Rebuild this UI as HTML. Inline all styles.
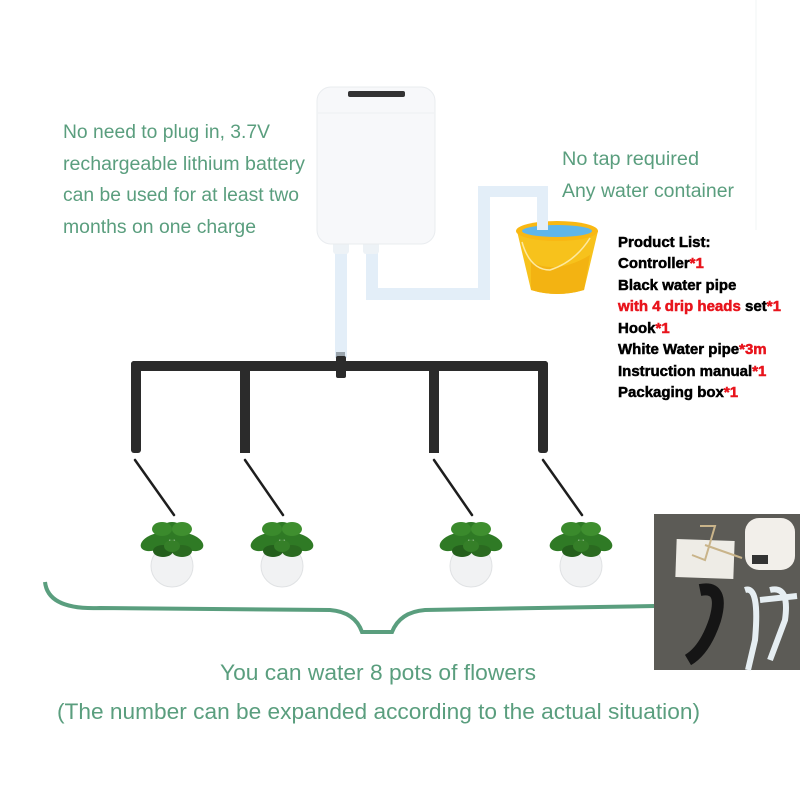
<!DOCTYPE html>
<html><head><meta charset="utf-8"><style>
body{margin:0;background:#fff}
svg{display:block}
.g{font-family:"Liberation Sans",sans-serif;fill:#5a9e7e}
.p{font-family:"Liberation Sans",sans-serif;font-weight:bold;font-size:15px;fill:#000;stroke:#000;stroke-width:0.5}
.r{fill:#e8141c;stroke:#e8141c}
</style></head><body>
<svg width="800" height="800" viewBox="0 0 800 800" xmlns="http://www.w3.org/2000/svg">
<rect width="800" height="800" fill="#fff"/>
<line x1="756" y1="0" x2="756" y2="230" stroke="#f2f4f6" stroke-width="1"/>
<g class="g" font-size="19">
<text x="63" y="138" textLength="207" lengthAdjust="spacingAndGlyphs">No need to plug in, 3.7V</text>
<text x="63" y="170" textLength="242" lengthAdjust="spacingAndGlyphs">rechargeable lithium battery</text>
<text x="63" y="201" textLength="236" lengthAdjust="spacingAndGlyphs">can be used for at least two</text>
<text x="63" y="233" textLength="193" lengthAdjust="spacingAndGlyphs">months on one charge</text>
<text x="562" y="165" textLength="137" lengthAdjust="spacingAndGlyphs">No tap required</text>
<text x="562" y="197" textLength="172" lengthAdjust="spacingAndGlyphs">Any water container</text>
</g>
<g fill="#e3eef8">
<rect x="335" y="250" width="12" height="108"/>
<rect x="366" y="250" width="12" height="50"/>
<rect x="366" y="288" width="124" height="12"/>
<rect x="478" y="186" width="12" height="114"/>
<rect x="478" y="186" width="70" height="11"/>
<rect x="537" y="186" width="11" height="46"/>
</g>
<rect x="336" y="352" width="9" height="10" fill="#9aa4ac"/>
<rect x="333" y="240" width="16" height="14" rx="3" fill="#edf2f6"/>
<rect x="363" y="240" width="16" height="14" rx="3" fill="#edf2f6"/>
<rect x="317" y="87" width="118" height="157" rx="14" fill="#f7f8fa" stroke="#e9ecef"/>
<line x1="318" y1="113" x2="434" y2="113" stroke="#eceff2"/>
<rect x="348" y="91" width="57" height="6" rx="2" fill="#333"/>
<path d="M517 231 L531 290 Q557 298 584 290 L598 231 Z" fill="#f7c21c"/>
<path d="M531 262 Q557 275 590 255 L584 290 Q557 298 531 290 Z" fill="#f3b312"/>
<ellipse cx="557" cy="231" rx="41" ry="10" fill="#f9b813"/>
<ellipse cx="557" cy="231" rx="35" ry="6" fill="#5fb6ea"/>
<rect x="537" y="200" width="11" height="30" fill="#e3eef8"/>
<path d="M522 242 Q530 270 550 270 Q575 262 590 238" fill="none" stroke="#fde9a0" stroke-width="1.5"/>
<g fill="#2b2b2b">
<rect x="131" y="361" width="417" height="10" rx="3"/>
<rect x="131" y="361" width="10" height="92" rx="3"/>
<rect x="240" y="366" width="10" height="87"/>
<rect x="429" y="366" width="10" height="87"/>
<rect x="538" y="361" width="10" height="92" rx="3"/>
<rect x="336" y="356" width="10" height="22" rx="2"/>
</g>
<g stroke="#1e1e1e" stroke-width="2.5" stroke-linecap="round">
<line x1="135" y1="460" x2="174" y2="515"/>
<line x1="245" y1="460" x2="283" y2="515"/>
<line x1="434" y1="460" x2="472" y2="515"/>
<line x1="543" y1="460" x2="582" y2="515"/>
</g>
<g id="pl">
<circle cx="172" cy="566" r="21" fill="#f1f2f3" stroke="#e0e2e4"/>
<g fill="#2f7a25">
<ellipse cx="172" cy="531" rx="11" ry="9"/>
<ellipse cx="155" cy="542" rx="15" ry="8" transform="rotate(-20 155 542)"/>
<ellipse cx="189" cy="542" rx="15" ry="8" transform="rotate(20 189 542)"/>
<ellipse cx="162" cy="529" rx="10" ry="7" fill="#3a8a2c"/>
<ellipse cx="182" cy="529" rx="10" ry="7" fill="#3f8f2f"/>
<ellipse cx="163" cy="551" rx="10" ry="6" fill="#245f1c"/>
<ellipse cx="182" cy="551" rx="10" ry="6" fill="#2a6a20"/>
<ellipse cx="172" cy="546" rx="8" ry="6" fill="#357f28"/>
</g>
</g>
<use href="#pl" x="110"/>
<use href="#pl" x="299"/>
<use href="#pl" x="409"/>
<path d="M45 582 Q48 610 100 608 L330 610 Q355 612 362 632 L392 632 Q400 612 425 610 L655 606" fill="none" stroke="#5a9e7e" stroke-width="4"/>
<rect x="654" y="514" width="146" height="156" fill="#5c5b56"/>
<rect x="676" y="540" width="58" height="38" fill="#eeece6" transform="rotate(2 705 559)"/>
<path d="M700 526 L715 526 L705 560 L692 555 M705 545 L742 558" stroke="#c9b48a" stroke-width="2" fill="none"/>
<rect x="745" y="518" width="50" height="52" rx="14" fill="#f2efea"/>
<rect x="752" y="555" width="16" height="9" fill="#333"/>
<path d="M700 590 Q725 585 715 620 Q705 650 688 660" stroke="#151515" stroke-width="12" fill="none"/>
<path d="M745 590 Q760 585 755 640 L748 670 M770 590 Q790 585 785 620 L770 660 M760 600 L797 596" stroke="#e6eef2" stroke-width="6" fill="none"/>
<g class="p">
<text x="618" y="247">Product List:</text>
<text x="618" y="268">Controller<tspan class="r">*1</tspan></text>
<text x="618" y="290">Black water pipe</text>
<text x="618" y="311" textLength="163" lengthAdjust="spacingAndGlyphs"><tspan class="r">with 4 drip heads </tspan>set<tspan class="r">*1</tspan></text>
<text x="618" y="333">Hook<tspan class="r">*1</tspan></text>
<text x="618" y="354">White Water pipe<tspan class="r">*3m</tspan></text>
<text x="618" y="376">Instruction manual<tspan class="r">*1</tspan></text>
<text x="618" y="397">Packaging box<tspan class="r">*1</tspan></text>
</g>
<g class="g" font-size="22.5">
<text x="220" y="680" textLength="316" lengthAdjust="spacingAndGlyphs">You can water 8 pots of flowers</text>
<text x="57" y="719" textLength="643" lengthAdjust="spacingAndGlyphs">(The number can be expanded according to the actual situation)</text>
</g>
</svg>
</body></html>
